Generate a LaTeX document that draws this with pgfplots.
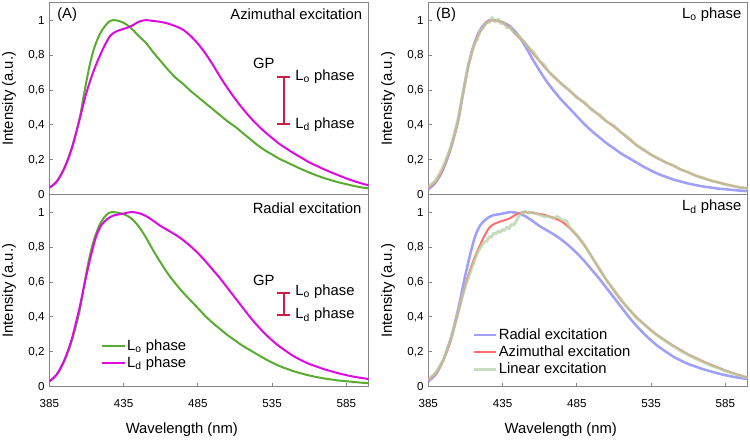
\documentclass[border=0pt]{standalone}
\usepackage{fontspec}
\setmainfont{Liberation Sans}
\usepackage{pgfplots}
\pgfplotsset{compat=1.18}
\usepackage{pgfplotstable}

\definecolor{frame}{RGB}{134,134,134}
\definecolor{cLo}{RGB}{90,172,48}
\definecolor{cLd}{RGB}{222,10,228}
\definecolor{cGP}{RGB}{205,30,75}
\definecolor{cRad}{RGB}{160,160,250}
\definecolor{cAzi}{RGB}{255,110,110}
\definecolor{cLin}{RGB}{180,210,165}

\newcommand{\lbl}{\fontsize{11.1}{13}\selectfont}

% Azimuthal excitation, Lo phase
\pgfplotstableread{
x y
385 0.04
390 0.075
395 0.15
400 0.265
405 0.42
408 0.56
410 0.65
412 0.735
414 0.805
416 0.86
419 0.92
422 0.96
425 0.99
428 1.00
432 0.995
436 0.98
440 0.955
445 0.91
450 0.87
455 0.815
460 0.765
465 0.715
470 0.67
475 0.635
480 0.595
485 0.56
490 0.525
495 0.49
500 0.455
505 0.42
510 0.39
515 0.355
520 0.32
525 0.285
530 0.255
535 0.23
540 0.205
545 0.185
550 0.165
555 0.145
560 0.127
565 0.11
570 0.095
575 0.082
580 0.07
585 0.06
590 0.05
595 0.042
600 0.036
}\azlo

% Azimuthal excitation, Ld phase
\pgfplotstableread{
x y
385 0.04
390 0.075
395 0.15
400 0.26
405 0.42
408 0.52
410 0.585
413 0.665
416 0.735
419 0.795
422 0.85
426 0.91
430 0.935
435 0.95
440 0.965
445 0.99
450 1.0
455 0.995
460 0.99
465 0.98
470 0.965
475 0.945
480 0.91
485 0.865
490 0.81
495 0.745
500 0.675
505 0.61
510 0.55
515 0.495
520 0.445
525 0.40
530 0.36
535 0.325
540 0.29
545 0.262
550 0.235
555 0.21
560 0.185
565 0.165
570 0.145
575 0.127
580 0.11
585 0.093
590 0.078
595 0.065
600 0.053
}\azld

% Radial excitation, Lo phase
\pgfplotstableread{
x y
385 0.03
390 0.07
395 0.145
400 0.26
405 0.42
408 0.56
410 0.655
412 0.74
414 0.81
416 0.865
419 0.93
422 0.97
425 0.995
428 1.00
432 0.995
436 0.985
440 0.965
445 0.92
450 0.855
455 0.78
460 0.71
465 0.645
470 0.59
475 0.54
480 0.495
485 0.45
490 0.405
495 0.365
500 0.33
505 0.295
510 0.265
515 0.235
520 0.21
525 0.185
530 0.16
535 0.138
540 0.118
545 0.102
550 0.087
555 0.075
560 0.064
565 0.055
570 0.047
575 0.041
580 0.035
585 0.031
590 0.027
595 0.023
600 0.02
}\ralo

% Radial excitation, Ld phase
\pgfplotstableread{
x y
385 0.03
390 0.07
395 0.15
400 0.27
405 0.44
408 0.56
410 0.64
413 0.75
416.5 0.86
420 0.925
424 0.96
428 0.98
434 0.99
440 1.0
445 0.995
450 0.978
455 0.95
460 0.92
465 0.895
470 0.87
475 0.84
480 0.805
485 0.765
490 0.72
495 0.67
500 0.62
505 0.565
510 0.51
515 0.455
520 0.40
525 0.35
530 0.305
535 0.265
540 0.23
545 0.20
550 0.172
555 0.15
560 0.13
565 0.115
570 0.10
575 0.088
580 0.076
585 0.066
590 0.057
595 0.05
600 0.044
}\rald

% Linear excitation, Lo phase
\pgfplotstableread{
x y
385 0.045
390 0.08
395 0.16
400 0.27
405 0.43
408 0.57
410 0.655
412 0.745
414 0.80
416 0.865
418 0.89
420 0.94
422 0.955
424 0.99
426 0.985
428 1.015
430 0.99
432 1.005
434 0.98
436 0.985
438 0.955
440 0.96
443 0.925
446 0.91
450 0.87
453 0.84
456 0.815
460 0.765
463 0.745
466 0.705
470 0.675
475 0.63
480 0.60
485 0.555
490 0.53
495 0.485
500 0.46
505 0.42
510 0.395
515 0.355
520 0.325
525 0.285
530 0.26
535 0.228
540 0.208
545 0.183
550 0.168
555 0.143
560 0.13
565 0.108
570 0.097
575 0.08
580 0.072
585 0.058
590 0.051
595 0.04
600 0.037
}\lilo

% Linear excitation, Ld phase
\pgfplotstableread{
x y
385 0.04
390 0.08
395 0.15
400 0.27
405 0.42
408 0.52
410 0.575
413 0.65
416 0.72
418 0.765
420 0.795
421.5 0.815
423 0.83
424.5 0.835
426 0.86
427.5 0.855
429 0.88
430.5 0.875
432 0.89
433.5 0.885
435 0.9
436.5 0.895
438 0.915
439.5 0.905
441 0.93
442.5 0.925
444 0.945
446 0.975
448 0.995
450 1.005
452 0.995
455 1.0
458 0.99
460 0.985
463 0.975
466 0.975
469 0.965
472 0.975
475 0.955
478 0.95
480 0.915
485 0.87
490 0.815
495 0.745
500 0.68
505 0.61
510 0.555
515 0.495
520 0.445
525 0.395
530 0.36
535 0.32
540 0.29
545 0.26
550 0.232
555 0.205
560 0.183
565 0.16
570 0.142
575 0.122
580 0.107
585 0.09
590 0.076
595 0.063
600 0.05
}\lild

\pgfplotsset{
 panel/.style={
  scale only axis, width=239.5pt, height=144pt,
  xmin=385, xmax=600, ymin=0, ymax=1.1,
  axis line style={frame, line width=0.6pt},
  tick style={frame, line width=0.6pt},
  tick align=inside, major tick length=3pt,
  xtick pos=left, ytick pos=left,
  xtick={385,435,485,535,585},
  ytick={0,0.2,0.4,0.6,0.8,1},
  /pgf/number format/assume math mode=true,
  /pgf/number format/use comma,
  ticklabel style={font=\fontsize{8.7}{10}\selectfont},
  xticklabel style={yshift=-6pt},
  ylabel={Intensity (a.u.)},
  ylabel style={at={(axis description cs:-0.126,0.5)}, anchor=center, font=\lbl},
  xlabel style={at={(axis description cs:0.415,-0.225)}, anchor=center, font=\lbl},
  every axis plot/.append style={line join=round},
 },
 toppanel/.style={panel, xtick=\empty},
 botpanel/.style={panel, xlabel={Wavelength (nm)}},
}

\begin{document}
\begin{tikzpicture}
\useasboundingbox (0,0) rectangle (562.5pt,330pt);

% ---------- (A) top: azimuthal excitation ----------
\begin{axis}[toppanel, at={(37pt,184pt)}, anchor=south west]
\addplot[cLo, line width=1.5pt, smooth] table {\azlo};
\addplot[cLd, line width=1.5pt, smooth] table {\azld};
\addplot[cGP, line width=1.5pt, forget plot] coordinates {(542.7,0.402) (542.7,0.676)};
\addplot[cGP, line width=1.5pt, forget plot] coordinates {(538.5,0.676) (546.9,0.676)};
\addplot[cGP, line width=1.5pt, forget plot] coordinates {(538.5,0.402) (546.9,0.402)};
\node[font=\lbl, inner sep=0pt] at (axis cs:529.4,0.75) {GP};
\node[font=\lbl, inner sep=0pt, anchor=west] at (axis cs:550.5,0.676) {L\textsubscript{o} phase};
\node[font=\lbl, inner sep=0pt, anchor=west] at (axis cs:550.5,0.402) {L\textsubscript{d} phase};
\node[font=\lbl, inner sep=0pt, anchor=west] at (axis description cs:0.024,0.937) {(A)};
\node[font=\lbl, inner sep=0pt, anchor=east] at (axis description cs:0.980,0.941) {Azimuthal excitation};
\end{axis}

% ---------- (A) bottom: radial excitation ----------
\begin{axis}[botpanel, at={(37pt,40pt)}, anchor=south west,
  legend style={at={(axis description cs:0.1625,0.254)}, anchor=north west, draw=none, fill=none,
    font=\lbl, inner sep=0pt, row sep=1.3pt, nodes={inner sep=1pt}},
  legend cell align=left,
  legend image code/.code={\draw[#1] (0pt,0pt) -- (16.7pt,0pt);}]
\addplot[cLo, line width=1.5pt, smooth] table {\ralo};
\addlegendentry{L\textsubscript{o} phase}
\addplot[cLd, line width=1.5pt, smooth] table {\rald};
\addlegendentry{L\textsubscript{d} phase}
\addplot[cGP, line width=1.5pt, forget plot] coordinates {(542.7,0.411) (542.7,0.539)};
\addplot[cGP, line width=1.5pt, forget plot] coordinates {(538.5,0.539) (546.9,0.539)};
\addplot[cGP, line width=1.5pt, forget plot] coordinates {(538.5,0.411) (546.9,0.411)};
\node[font=\lbl, inner sep=0pt] at (axis cs:529.4,0.611) {GP};
\node[font=\lbl, inner sep=0pt, anchor=west] at (axis cs:550.5,0.544) {L\textsubscript{o} phase};
\node[font=\lbl, inner sep=0pt, anchor=west] at (axis cs:550.5,0.411) {L\textsubscript{d} phase};
\node[font=\lbl, inner sep=0pt, anchor=east] at (axis description cs:0.978,0.930) {Radial excitation};
\end{axis}

% ---------- (B) top: Lo phase ----------
\begin{axis}[toppanel, at={(321.2pt,184pt)}, anchor=south west]
\addplot[cRad, line width=1.9pt, smooth] table {\ralo};
\addplot[cAzi, line width=1.5pt, smooth] table {\azlo};
\addplot[cLin, line width=2.2pt, opacity=0.75] table {\lilo};
\node[font=\lbl, inner sep=0pt, anchor=west] at (axis description cs:0.024,0.937) {(B)};
\node[font=\lbl, inner sep=0pt, anchor=east] at (axis description cs:0.981,0.937) {L\textsubscript{o} phase};
\end{axis}

% ---------- (B) bottom: Ld phase ----------
\begin{axis}[botpanel, at={(321.2pt,40pt)}, anchor=south west,
  legend style={at={(axis description cs:0.137,0.311)}, anchor=north west, draw=none, fill=none,
    font=\lbl, inner sep=0pt, row sep=1.3pt, nodes={inner sep=1pt}},
  legend cell align=left,
  legend image code/.code={\draw[#1] (0pt,0pt) -- (16.7pt,0pt);}]
\addplot[cRad, line width=1.9pt, smooth] table {\rald};
\addlegendentry{Radial excitation}
\addplot[cAzi, line width=1.5pt, smooth] table {\azld};
\addlegendentry{Azimuthal excitation}
\addplot[cLin, line width=2.2pt, opacity=0.75] table {\lild};
\addlegendentry{Linear excitation}
\node[font=\lbl, inner sep=0pt, anchor=east] at (axis description cs:0.981,0.936) {L\textsubscript{d} phase};
\end{axis}
\end{tikzpicture}
\end{document}
